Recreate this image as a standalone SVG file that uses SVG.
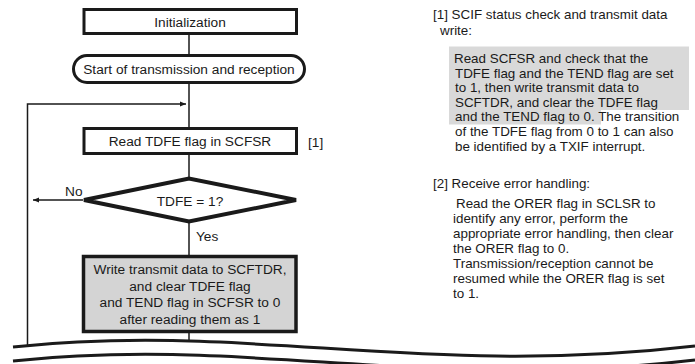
<svg xmlns="http://www.w3.org/2000/svg" width="695" height="364" viewBox="0 0 695 364">
<style>
text{font-family:"Liberation Sans",Arial,sans-serif;fill:#1a1a1a}
.n{font-size:13.7px;text-anchor:middle}
.l{font-size:13.7px}
.r{font-size:13.4px}
.box{fill:#fff;stroke:#1a1a1a;stroke-width:3}
.gbox{fill:#d4d4d4;stroke:#1a1a1a;stroke-width:3.5}
.dia{fill:#fff;stroke:#1a1a1a;stroke-width:4;stroke-linejoin:miter}
.ln{fill:none;stroke:#1a1a1a;stroke-width:1.5}
.brk{fill:none;stroke:#1a1a1a;stroke-width:3}
</style>
<defs>
<marker id="ah" viewBox="0 0 10 10" refX="10" refY="5" markerWidth="9" markerHeight="6" markerUnits="userSpaceOnUse" orient="auto">
<path d="M0,1 L10,5 L0,9 Z" fill="#1a1a1a"/>
</marker>
</defs>
<rect width="695" height="364" fill="#fff"/>
<g id="connectors">
<line class="ln" x1="189" y1="35" x2="189" y2="55"/>
<line class="ln" x1="189" y1="83" x2="189" y2="127"/>
<polyline class="ln" points="27.5,345 27.5,104 186,104" marker-end="url(#ah)"/>
<line class="ln" x1="189" y1="155" x2="189" y2="178"/>
<line class="ln" x1="83" y1="200" x2="33" y2="200" marker-end="url(#ah)"/>
<line class="ln" x1="189" y1="222" x2="189" y2="255"/>
<line class="ln" x1="189" y1="333" x2="189" y2="342"/>
<text class="l" x="65" y="196">No</text>
<text class="l" x="196" y="241">Yes</text>
</g>
<g id="init">
<rect class="box" x="84" y="9.5" width="212.5" height="24"/>
<text class="n" x="190" y="26.5">Initialization</text>
</g>
<g id="start">
<rect class="box" x="73.5" y="55.5" width="231" height="27" rx="13.5"/>
<text class="n" x="189" y="73.5">Start of transmission and reception</text>
</g>
<g id="read">
<rect class="box" x="84" y="128.5" width="212.5" height="25"/>
<text class="n" x="190" y="146">Read TDFE flag in SCFSR</text>
<text class="l" x="308" y="147">[1]</text>
</g>
<g id="decision">
<polygon class="dia" points="84,200 189,178.5 296,200 189,221.5"/>
<text class="n" x="190" y="206">TDFE = 1?</text>
</g>
<g id="write">
<rect class="gbox" x="83.5" y="256.5" width="212.5" height="75"/>
<text class="n" x="190" y="274">Write transmit data to SCFTDR,</text>
<text class="n" x="190" y="290.5">and clear TDFE flag</text>
<text class="n" x="190" y="307">and TEND flag in SCFSR to 0</text>
<text class="n" x="190" y="323.5">after reading them as 1</text>
</g>
<g id="break">
<path class="brk" d="M13,347 C250,322 420,378 695,346"/>
<path class="brk" d="M13,361 C250,336 420,392 695,360"/>
</g>
<g id="notes">
<polygon points="449,46.5 689,46.5 689,110 601,110 601,124.5 449,124.5" fill="#d9d9d9"/>
<text class="r" x="433" y="18.5">[1] SCIF status check and transmit data</text>
<text class="r" x="440" y="35">write:</text>
<text class="r" x="454" y="63">Read SCFSR and check that the</text>
<text class="r" x="455" y="77.5">TDFE flag and the TEND flag are set</text>
<text class="r" x="455" y="92">to 1, then write transmit data to</text>
<text class="r" x="455" y="106.5">SCFTDR, and clear the TDFE flag</text>
<text class="r" x="455" y="121">and the TEND flag to 0. The transition</text>
<text class="r" x="455" y="136">of the TDFE flag from 0 to 1 can also</text>
<text class="r" x="455" y="151">be identified by a TXIF interrupt.</text>
<text class="r" x="433" y="188">[2]  Receive error handling:</text>
<text class="r" x="456" y="208">Read the ORER flag in SCLSR to</text>
<text class="r" x="453" y="222.5">identify any error, perform the</text>
<text class="r" x="453" y="237.5">appropriate error handling, then clear</text>
<text class="r" x="453" y="252.5">the ORER flag to 0.</text>
<text class="r" x="453" y="267.5">Transmission/reception cannot be</text>
<text class="r" x="453" y="282.5">resumed while the ORER flag is set</text>
<text class="r" x="453" y="298">to 1.</text>
</g>
</svg>
